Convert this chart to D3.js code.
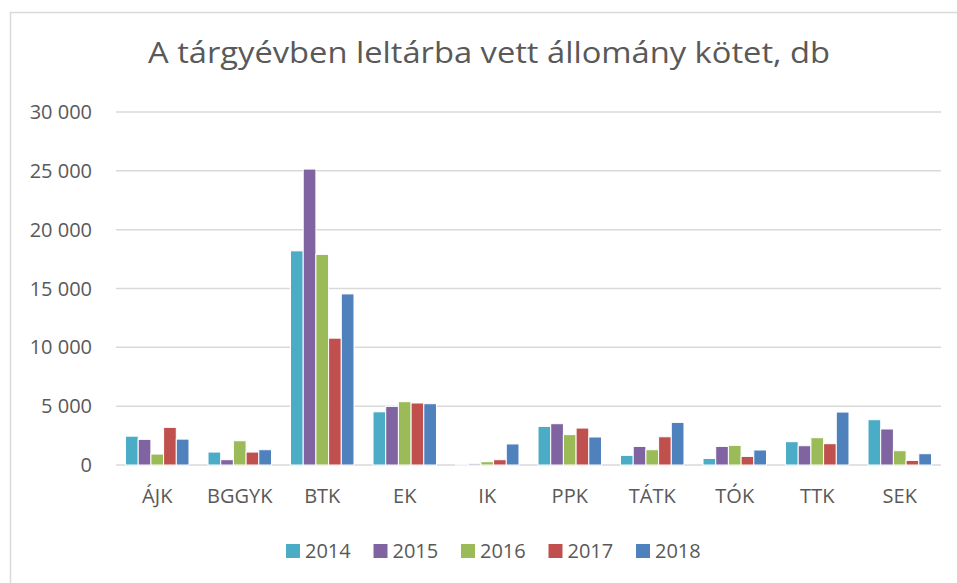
<!DOCTYPE html>
<html>
<head>
<meta charset="utf-8">
<script src="https://cdn.jsdelivr.net/npm/d3@7"></script>
<style>
  body { margin: 0; background: #fff; }
  text { font-family: "Open Sans", sans-serif; fill: #595959; }
</style>
</head>
<body>
<div id="chart"></div>
<script>
const categories = ["ÁJK", "BGGYK", "BTK", "EK", "IK", "PPK", "TÁTK", "TÓK", "TTK", "SEK"];
const years = ["2014", "2015", "2016", "2017", "2018"];
const values2014 = [2450, 1100, 18200, 4520, 30, 3280, 820, 560, 1980, 3850];
const values2015 = [2180, 450, 25150, 4980, 110, 3510, 1580, 1580, 1640, 3060];
const values2016 = [930, 2060, 17900, 5380, 280, 2580, 1300, 1670, 2320, 1215];
const values2017 = [3200, 1100, 10780, 5270, 450, 3140, 2400, 730, 1810, 390];
const values2018 = [2200, 1300, 14540, 5210, 1790, 2380, 3620, 1275, 4500, 960];
const yTicks = [0, 5000, 10000, 15000, 20000, 25000, 30000];
const colors = ["#4BACC6", "#8064A2", "#9BBB59", "#C0504D", "#4F81BD"];
const title = "A tárgyévben leltárba vett állomány kötet, db";

const series = [values2014, values2015, values2016, values2017, values2018];
const width = 957, height = 583;
const plot = { left: 116, right: 941, top: 112, bottom: 465 };

const svg = d3.select("#chart").append("svg")
  .attr("width", width)
  .attr("height", height);

// chart frame
svg.append("rect")
  .attr("x", 10.5).attr("y", 12.5)
  .attr("width", 980).attr("height", 600)
  .attr("fill", "none")
  .attr("stroke", "#D9D9D9")
  .attr("stroke-width", 1.5);

svg.append("text")
  .attr("x", 489).attr("y", 63)
  .attr("text-anchor", "middle")
  .attr("textLength", 682)
  .attr("lengthAdjust", "spacingAndGlyphs")
  .style("font-size", "29px")
  .text(title);

const x0 = d3.scaleBand().domain(categories).range([plot.left, plot.right]);
const x1 = d3.scaleBand().domain(years).range([0, x0.bandwidth()])
  .paddingInner(0).paddingOuter(0.75);
const y = d3.scaleLinear().domain([0, 30000]).range([plot.bottom, plot.top]);

const fmt = (v) => d3.format(",")(v).replace(/,/g, " ");

svg.append("g")
  .selectAll("line")
  .data(yTicks)
  .enter()
  .append("line")
  .attr("x1", plot.left).attr("x2", plot.right)
  .attr("y1", (d) => y(d)).attr("y2", (d) => y(d))
  .attr("stroke", "#D9D9D9")
  .attr("stroke-width", 1.5);

svg.append("g")
  .selectAll("text")
  .data(yTicks)
  .enter()
  .append("text")
  .attr("x", 92)
  .attr("y", (d) => y(d))
  .attr("dy", "0.35em")
  .attr("text-anchor", "end")
  .style("font-size", "20px")
  .text(fmt);

const groups = svg.append("g")
  .selectAll("g")
  .data(categories)
  .enter()
  .append("g")
  .attr("transform", (d) => `translate(${x0(d)},0)`);

groups.selectAll("rect")
  .data((c, i) => years.map((yr, k) => ({ yr, k, v: series[k][i] })))
  .enter()
  .append("rect")
  .attr("x", (d) => x1(d.yr))
  .attr("width", x1.bandwidth())
  .attr("y", (d) => y(d.v))
  .attr("height", (d) => plot.bottom - y(d.v))
  .attr("fill", (d) => colors[d.k])
  .attr("stroke", "#fff")
  .attr("stroke-width", 1);

svg.append("g")
  .selectAll("text")
  .data(categories)
  .enter()
  .append("text")
  .attr("x", (d) => x0(d) + x0.bandwidth() / 2)
  .attr("y", 503)
  .attr("text-anchor", "middle")
  .style("font-size", "20px")
  .text((d) => d);

const legend = svg.append("g")
  .selectAll("g")
  .data(years)
  .enter()
  .append("g")
  .attr("transform", (d, i) => `translate(${286 + i * 87.5},544)`);

legend.append("rect")
  .attr("width", 14).attr("height", 14)
  .attr("fill", (d, i) => colors[i]);

legend.append("text")
  .attr("x", 19).attr("y", 14)
  .style("font-size", "20px")
  .text((d) => d);
</script>
</body>
</html>
